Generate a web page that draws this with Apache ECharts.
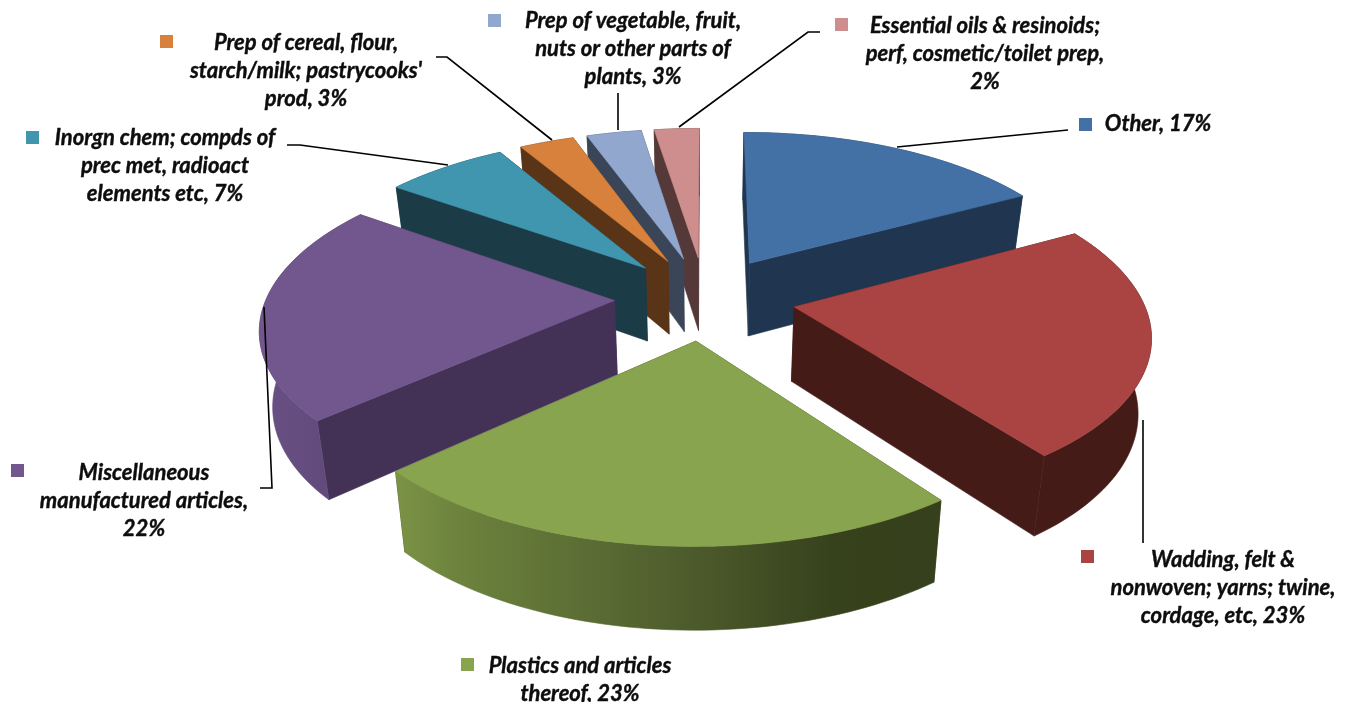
<!DOCTYPE html>
<html><head><meta charset="utf-8">
<style>html,body{margin:0;padding:0;background:#fff}#c{width:1354px;height:702px}</style>
<script src="https://cdn.jsdelivr.net/npm/echarts@6/dist/echarts.min.js"></script>
</head><body><div id="c"></div>
<script>
var categories = ["Other","Wadding, felt & nonwoven; yarns; twine, cordage, etc","Plastics and articles thereof","Miscellaneous manufactured articles","Inorgn chem; compds of prec met, radioact elements etc","Prep of cereal, flour, starch/milk; pastrycooks' prod","Prep of vegetable, fruit, nuts or other parts of plants","Essential oils & resinoids; perf, cosmetic/toilet prep"];
// unrounded shares; the printed labels carry the rounded figures
var shares = [17,22.85,23.4,21.6,6.7,3,3,2.45];
var labelLines = [
 ["Other, 17%"],
 ["Wadding, felt &","nonwoven; yarns; twine,","cordage, etc, 23%"],
 ["Plastics and articles","thereof, 23%"],
 ["Miscellaneous","manufactured articles,","22%"],
 ["Inorgn chem; compds of","prec met, radioact","elements etc, 7%"],
 ["Prep of cereal, flour,","starch/milk; pastrycooks'","prod, 3%"],
 ["Prep of vegetable, fruit,","nuts or other parts of","plants, 3%"],
 ["Essential oils & resinoids;","perf, cosmetic/toilet prep,","2%"]
];
var topColors = ["#4371A6","#A94442","#88A44E","#71578D","#4096AE","#D7813C","#92A7CE","#CD8E8D"];
var cutColors = ["#20354F","#451B18","#36421C","#433255","#1B3B47","#5A3417","#3A4557","#553938"];
var wallStops = [
 [[0,"#20354F"],[1,"#20354F"]],
 [[0,"#451B18"],[1,"#451B18"]],
 [[0,"#7B9345"],[0.12,"#6C823D"],[0.5,"#505F2E"],[0.8,"#36421C"],[1,"#36401C"]],
 [[0,"#6A5186"],[1,"#5C4673"]],
 [[0,"#1B3B47"],[1,"#1B3B47"]],
 [[0,"#5A3417"],[1,"#5A3417"]],
 [[0,"#3A4557"],[1,"#3A4557"]],
 [[0,"#553938"],[1,"#553938"]]
];
// page layout of the label blocks: centre x, first-line y, key x, key y
var labelLayout = [[1158,124,1079,118],[1223,560,1081,550],[580,666,461,658],[144,473,11,464],[165,138,26,131],[306,43,160,35],[633,21,488,14],[985,26,835,18]];
var leaderPaths = [
 [[897,147],[1068,130]],
 [[1143,420],[1143,543]],
 [],
 [[264,307],[272,488],[260,488]],
 [[448,165],[300,145],[287,145]],
 [[552,140],[447,57],[436,57]],
 [[618,130],[618,93]],
 [[679,127],[808,32],[820,32]]
];
// 3D projection of the pie
var CX=705, CY=298, F=348, TILT=0.46, PERSP=0.15, EXPLODE=0.26, SHRINK=0.97, THICK=74;
function project(u,v,lower){
  var s=1/(1+PERSP*v), x=CX+F*u*s, y=CY-F*TILT*v*s;
  if(lower){ x=CX+(x-CX)*SHRINK; y=CY+(y-CY)*SHRINK+THICK*s; }
  return [x,y];
}
var total=shares.reduce(function(a,b){return a+b;},0);
var bounds=[],acc=0;
shares.forEach(function(v){var a0=acc/total*2*Math.PI;acc+=v;bounds.push([a0,acc/total*2*Math.PI]);});
var order=shares.map(function(_,i){return i;}).sort(function(a,b){
  return Math.cos((bounds[b][0]+bounds[b][1])/2)-Math.cos((bounds[a][0]+bounds[a][1])/2);});
function renderSlice(params,api){
  var i=api.value(1), a0=bounds[i][0], a1=bounds[i][1], mid=(a0+a1)/2;
  var ou=EXPLODE*Math.sin(mid), ov=EXPLODE*Math.cos(mid);
  var n=Math.max(4,Math.ceil((a1-a0)/(Math.PI/120))), top=[], low=[];
  for(var k=0;k<=n;k++){
    var a=a0+(a1-a0)*k/n, u=ou+Math.sin(a), v=ov+Math.cos(a);
    top.push(project(u,v,false)); low.push(project(u,v,true));
  }
  var at=project(ou,ov,false), al=project(ou,ov,true);
  var rank=order.indexOf(i)*10;
  var xs=top.concat(low).map(function(p){return p[0];});
  var x0=Math.min.apply(null,xs), x1=Math.max.apply(null,xs);
  var wallFill={type:'linear',x:x0,y:0,x2:x1,y2:0,global:true,
    colorStops:wallStops[i].map(function(s){return {offset:s[0],color:s[1]};})};
  function poly(pts,fill,z){return {type:'polygon',z2:rank+z,shape:{points:pts},style:{fill:fill,stroke:fill,lineWidth:0.6}};}
  return {type:'group',children:[
    poly([at,top[0],low[0],al],cutColors[i],1),
    poly([at,top[n],low[n],al],cutColors[i],1),
    poly(top.concat(low.slice().reverse()),wallFill,2),
    poly([at].concat(top),topColors[i],3)
  ]};
}
var graphics=[];
labelLines.forEach(function(lines,i){
  var L=labelLayout[i];
  graphics.push({type:'rect',z:10,shape:{x:L[2],y:L[3],width:13,height:13},style:{fill:topColors[i]}});
  lines.forEach(function(t,j){
    graphics.push({type:'text',z:10,x:L[0],y:L[1]+j*28,style:{text:t,x:0,y:0,align:'center',verticalAlign:'middle',
      fill:'#0d0d0d',stroke:'#0d0d0d',lineWidth:0.4,font:'italic bold 22px Lato'}});
  });
  if(leaderPaths[i].length) graphics.push({type:'polyline',z:10,shape:{points:leaderPaths[i]},style:{fill:'none',stroke:'#000',lineWidth:1.6}});
});
var chart=echarts.init(document.getElementById('c'),null,{renderer:'canvas'});
chart.setOption({
  animation:false,backgroundColor:'#fff',
  series:[{type:'custom',coordinateSystem:'none',renderItem:renderSlice,clip:false,
    data:shares.map(function(v,i){return {name:categories[i],value:[v,i]};})}],
  graphic:{elements:graphics}
});
</script></body></html>
